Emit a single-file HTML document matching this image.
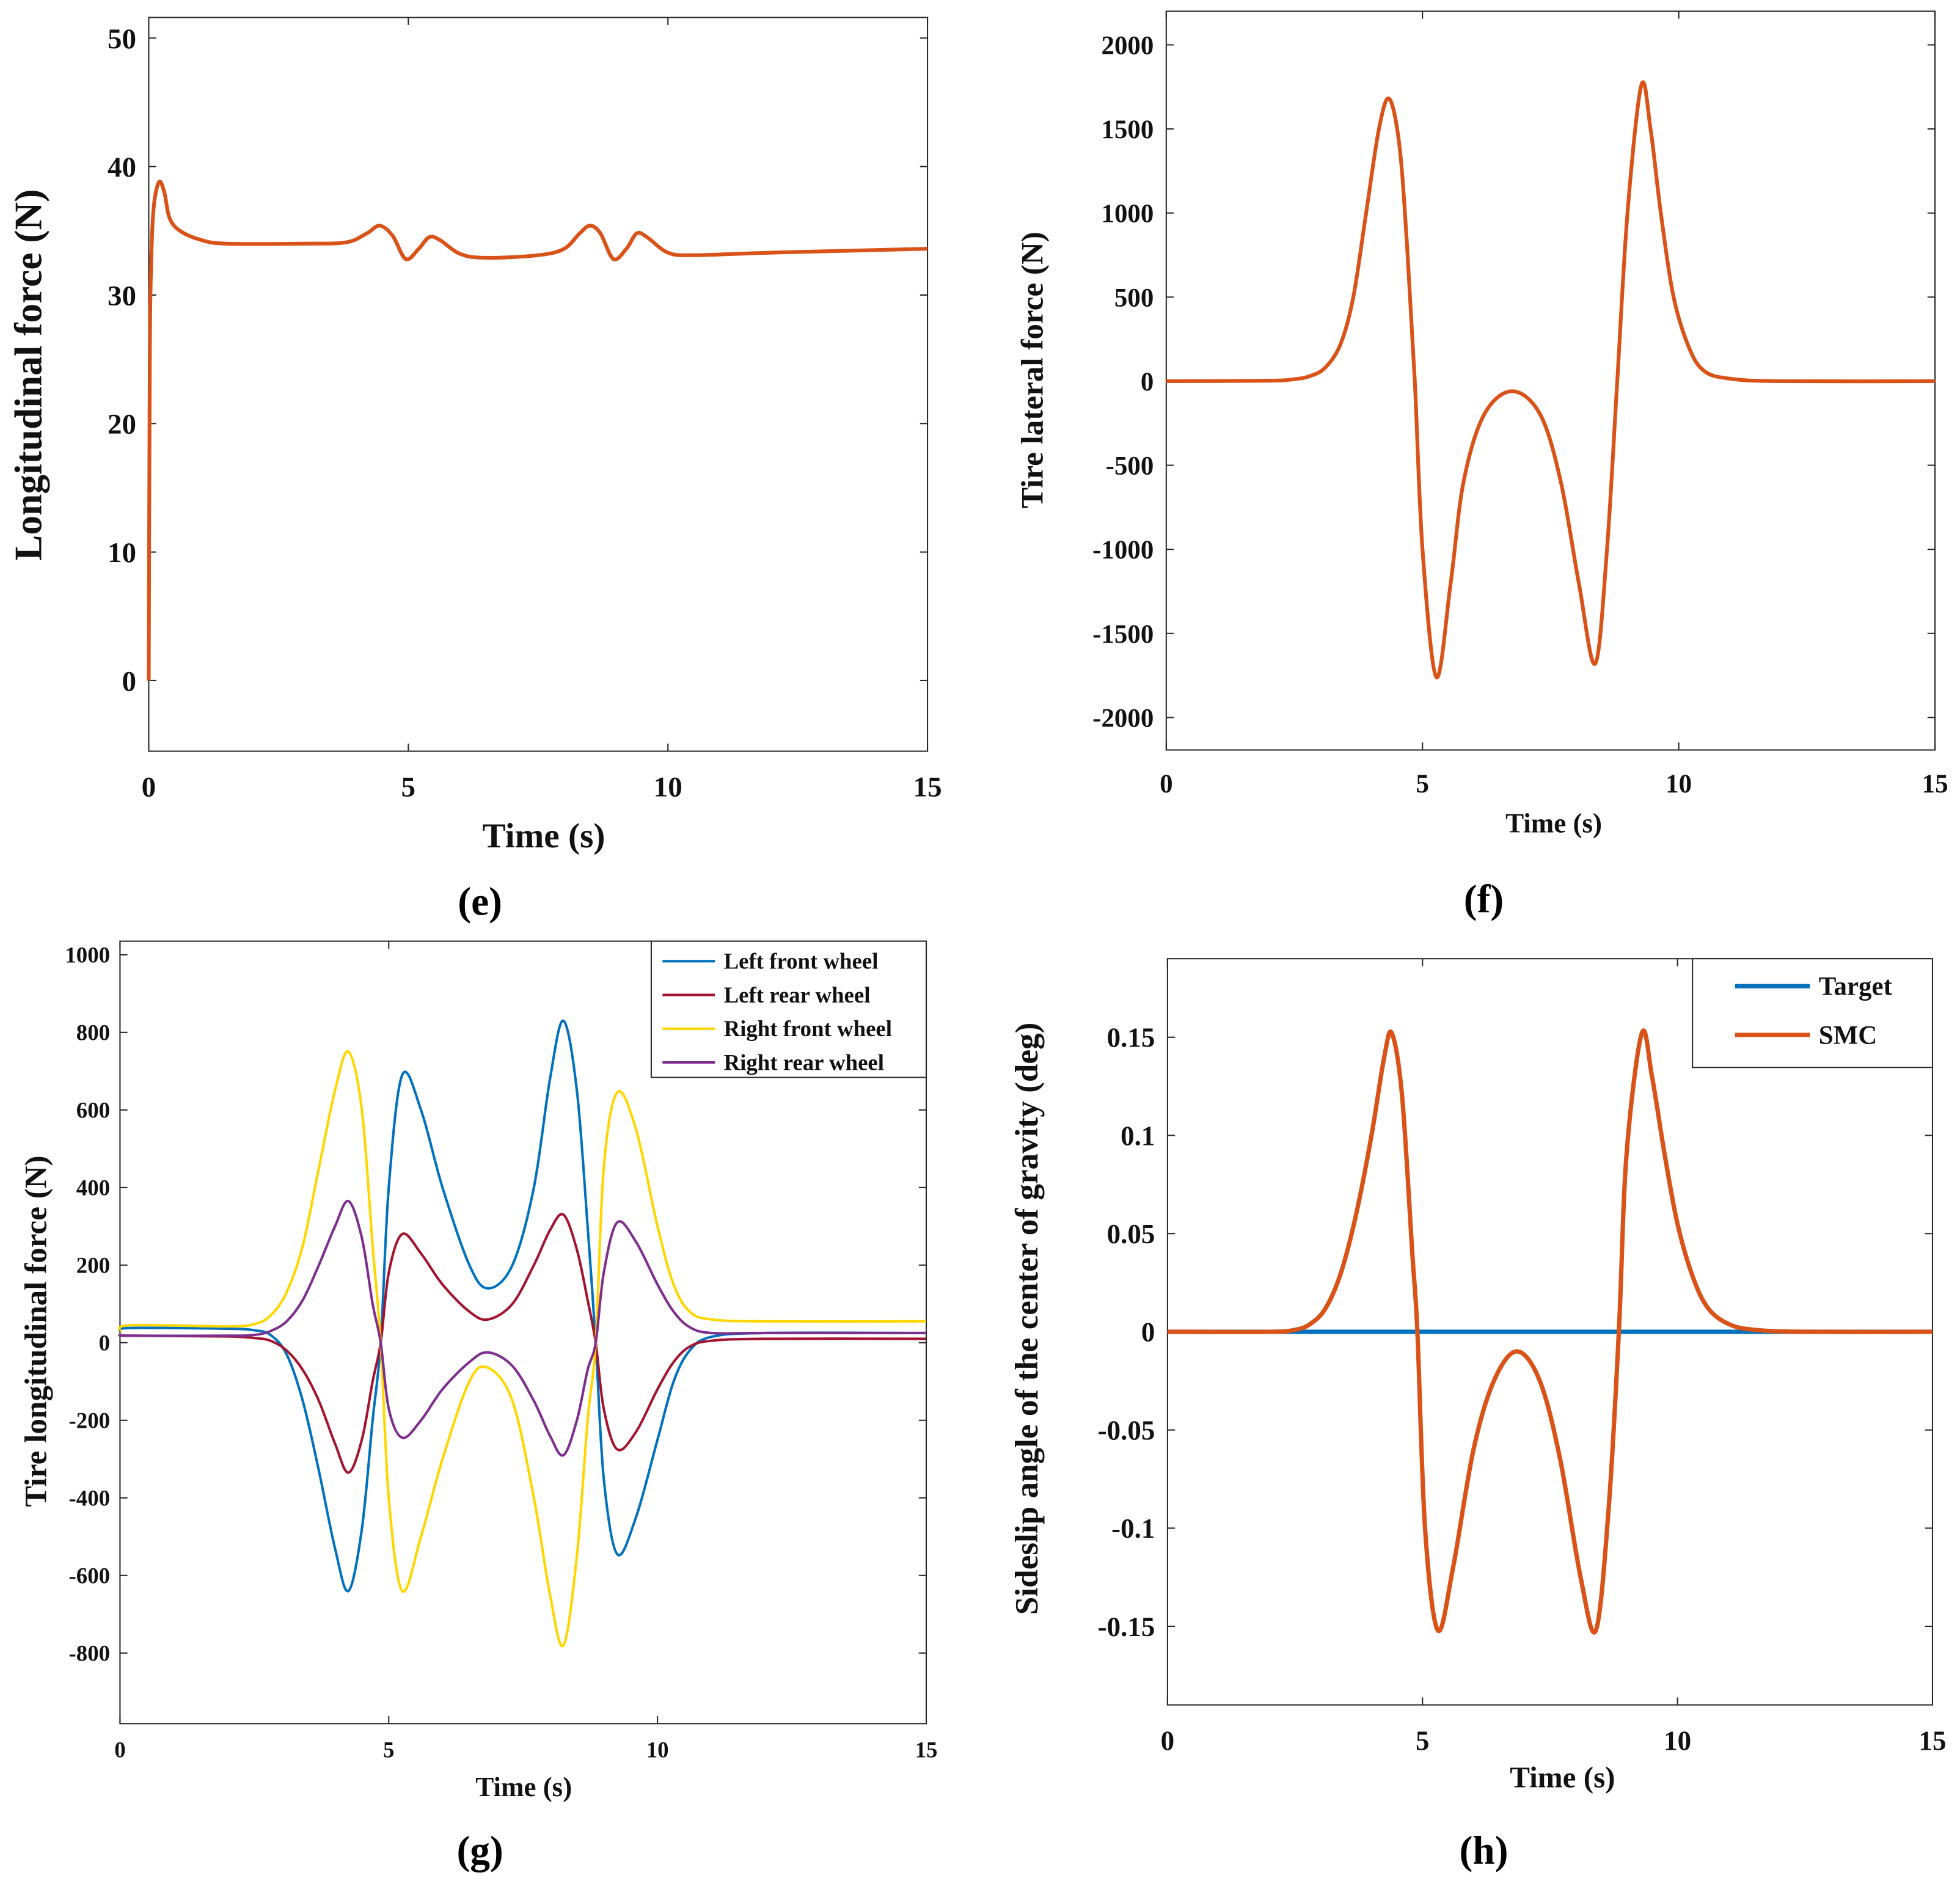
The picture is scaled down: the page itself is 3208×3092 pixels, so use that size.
<!DOCTYPE html>
<html><head><meta charset="utf-8"><style>
html,body{margin:0;padding:0;background:#fff;}
svg{display:block;font-family:"Liberation Serif",serif;font-weight:bold;}
</style></head><body>
<svg id="fig" width="3208" height="3092" viewBox="0 0 1568 1511.3" preserveAspectRatio="none" xmlns="http://www.w3.org/2000/svg"></svg>
<script>
// ---- Panel (e) data ----
const eTime=[0,0.02,0.05,0.1,0.2,0.3,0.4,0.6,1,1.5,3,3.8,4.2,4.45,4.7,4.95,5.2,5.4,5.6,6,6.5,7.5,8,8.3,8.5,8.7,8.95,9.2,9.4,9.6,10,10.5,12,15];
const eForce=[0,25,33,37,38.8,38,36,35,34.3,34,34,34.1,34.8,35.4,34.6,32.8,33.6,34.5,34.3,33.2,32.9,33.1,33.6,34.8,35.4,34.8,32.8,33.6,34.8,34.5,33.3,33.1,33.3,33.6];
const eYTicks=[0,10,20,30,40,50];
const eXTicks=[0,5,10,15];
// ---- Panel (f) data ----
const fTime=[0,2,2.5,2.8,3.1,3.4,3.65,3.9,4.15,4.35,4.55,4.7,4.85,5.0,5.27,5.55,5.8,6.2,6.75,7.3,7.7,8.05,8.37,8.6,8.8,9.0,9.27,9.45,9.65,9.9,10.2,10.5,11,12,15];
const fForce=[0,3,12,30,80,220,500,1000,1500,1680,1400,800,0,-1000,-1760,-1200,-600,-200,-60,-200,-600,-1200,-1680,-1000,0,1000,1760,1500,1000,500,200,60,15,0,0];
const fYTicks=[-2000,-1500,-1000,-500,0,500,1000,1500,2000];
const fXTicks=[0,5,10,15];
// ---- Panel (g) data ----
const gTime=[0,0.2,2,2.5,2.8,3.1,3.4,3.7,4.0,4.25,4.5,4.7,4.85,5.0,5.25,5.6,6.0,6.5,6.85,7.3,7.7,8.0,8.25,8.5,8.7,8.85,9.0,9.25,9.6,10.0,10.3,10.6,11,12,15];
const gLeftFront=[30,38,36,32,20,-30,-150,-330,-530,-640,-480,-200,0,400,690,600,400,200,140,200,400,680,830,650,300,0,-350,-545,-450,-250,-100,-20,15,25,25];
const gLeftRear=[20,18,16,12,5,-20,-70,-150,-260,-335,-250,-100,0,180,280,230,150,80,60,100,200,290,330,240,110,0,-170,-275,-230,-120,-50,-10,5,10,10];
const gRightFront=[30,45,42,48,70,130,250,450,650,750,600,250,0,-400,-640,-500,-300,-100,-65,-150,-400,-650,-780,-550,-200,0,450,645,550,300,150,80,60,55,55];
const gRightRear=[20,18,18,20,30,55,110,200,300,365,270,100,0,-170,-245,-200,-120,-50,-25,-60,-150,-240,-290,-200,-70,0,180,310,260,150,80,40,25,25,25];
const gYTicks=[-800,-600,-400,-200,0,200,400,600,800,1000];
const gXTicks=[0,5,10,15];
const gNames=["Left front wheel","Left rear wheel","Right front wheel","Right rear wheel"];
// ---- Panel (h) data ----
const hTime=[0,2,2.5,2.8,3.1,3.4,3.7,4.0,4.25,4.4,4.6,4.8,4.9,5.05,5.3,5.6,6.0,6.4,6.85,7.3,7.7,8.1,8.4,8.65,8.85,9.0,9.3,9.5,9.75,10.0,10.3,10.6,11,11.5,12.5,15];
const hSMC=[0,0,0.001,0.004,0.012,0.03,0.06,0.1,0.14,0.152,0.12,0.04,0,-0.1,-0.152,-0.12,-0.06,-0.025,-0.01,-0.025,-0.065,-0.125,-0.152,-0.09,0,0.09,0.152,0.13,0.09,0.055,0.028,0.012,0.004,0.001,0,0];
const hTarget=[0,0];
const hTargetTime=[0,15];
const hYTicks=[-0.15,-0.1,-0.05,0,0.05,0.1,0.15];
const hYTickLabels=["-0.15","-0.1","-0.05","0","0.05","0.1","0.15"];
const hXTicks=[0,5,10,15];

const svg=document.getElementById('fig');
const NS="http://www.w3.org/2000/svg";
function mk(tag,attrs,parent){const el=document.createElementNS(NS,tag);for(const k in attrs)el.setAttribute(k,attrs[k]);(parent||svg).appendChild(el);return el;}
function txt(s,x,y,size,anchor,parent,rot){const t=mk('text',{x:x,y:y,'font-size':size,'text-anchor':anchor||'middle',fill:'#111'},parent);if(rot)t.setAttribute('transform','rotate(-90 '+x+' '+y+')');t.textContent=s;return t;}
function smoothPath(pts){let d='M'+pts[0][0]+','+pts[0][1];for(let i=0;i<pts.length-1;i++){const p0=pts[Math.max(0,i-1)],p1=pts[i],p2=pts[i+1],p3=pts[Math.min(pts.length-1,i+2)];const c1x=p1[0]+(p2[0]-p0[0])/6,c1y=p1[1]+(p2[1]-p0[1])/6,c2x=p2[0]-(p3[0]-p1[0])/6,c2y=p2[1]-(p3[1]-p1[1])/6;d+=' C'+c1x+','+c1y+' '+c2x+','+c2y+' '+p2[0]+','+p2[1];}return d;}

function panel(cfg){
  const g=mk('g',{});
  
  
  const X=v=>cfg.x0+(v-cfg.xmin)/(cfg.xmax-cfg.xmin)*(cfg.x1-cfg.x0);
  const Y=v=>cfg.y1-(v-cfg.ymin)/(cfg.ymax-cfg.ymin)*(cfg.y1-cfg.y0);
  const box=mk('rect',{x:cfg.x0,y:cfg.y0,width:cfg.x1-cfg.x0,height:cfg.y1-cfg.y0,fill:'#fff',stroke:'#262626','stroke-width':1},g);
  
  
  const tl=6;
  cfg.xt.forEach(v=>{const x=X(v);
    mk('line',{x1:x,y1:cfg.y1,x2:x,y2:cfg.y1-tl,stroke:'#262626','stroke-width':1},g);
    mk('line',{x1:x,y1:cfg.y0,x2:x,y2:cfg.y0+tl,stroke:'#262626','stroke-width':1},g);
    const t=txt(String(v),x,cfg.y1+cfg.xtOff,cfg.tickSize,'middle',g);
    
    
  });
  cfg.yt.forEach((v,i)=>{const y=Y(v);
    mk('line',{x1:cfg.x0,y1:y,x2:cfg.x0+tl,y2:y,stroke:'#262626','stroke-width':1},g);
    mk('line',{x1:cfg.x1,y1:y,x2:cfg.x1-tl,y2:y,stroke:'#262626','stroke-width':1},g);
    const t=txt(cfg.ytl?cfg.ytl[i]:String(v),cfg.x0-cfg.ytOff,y+cfg.tickSize*0.35,cfg.tickSize,'end',g);
    
    
  });
  cfg.series.forEach(s=>{
    const pts=s.t.map((tv,i)=>[X(tv),Y(s.v[i])]);
    const p=mk('path',{d:smoothPath(pts),fill:'none',stroke:s.color,'stroke-width':s.w,'stroke-linejoin':'round'},g);
    
    
  });
  const xt=txt('Time (s)',cfg.xlab[0],cfg.xlab[1],cfg.labSize,'middle',g);
  
  
  const yt=txt(cfg.ylabel,cfg.ylab[0],cfg.ylab[1],cfg.ylabSize||cfg.labSize,'middle',g,true);
  
  
  const cap=mk('text',{x:cfg.cap[0],y:cfg.cap[1],'font-size':32,'text-anchor':'middle',fill:'#000'},g);
  cap.textContent=cfg.capText;
  
  
  return {g,X,Y};
}

panel({name:'panel-e',x0:119,x1:742,y0:14,y1:601,xmin:0,xmax:15,ymin:-5.5,ymax:51.6,xt:eXTicks,yt:eYTicks,tickSize:23,xtOff:36,ytOff:10,
  series:[{t:eTime,v:eForce,color:'#D95319',w:3,name:'longitudinal-force-line'}],
  xlab:[435,678],ylab:[33,300],labSize:28,ylabSize:31,ylabel:'Longitudinal force (N)',cap:[384,732],capText:'(e)'});

panel({name:'panel-f',x0:933,x1:1548,y0:9,y1:600,xmin:0,xmax:15,ymin:-2193,ymax:2200,xt:fXTicks,yt:fYTicks,tickSize:21,xtOff:34,ytOff:10,
  series:[{t:fTime,v:fForce,color:'#D95319',w:3,name:'tire-lateral-force-line'}],
  xlab:[1243,666],ylab:[834,296],labSize:22,ylabSize:25,ylabel:'Tire lateral force (N)',cap:[1187,730],capText:'(f)'});

const pg=panel({name:'panel-g',x0:96,x1:741,y0:753,y1:1379,xmin:0,xmax:15,ymin:-982,ymax:1035,xt:gXTicks,yt:gYTicks,tickSize:18,xtOff:27,ytOff:8,
  series:[{t:gTime,v:gLeftFront,color:'#0072BD',w:2,name:'left-front-wheel-line'},
          {t:gTime,v:gLeftRear,color:'#A2142F',w:2,name:'left-rear-wheel-line'},
          {t:gTime,v:gRightFront,color:'#FFD700',w:2,name:'right-front-wheel-line'},
          {t:gTime,v:gRightRear,color:'#7E2F8E',w:2,name:'right-rear-wheel-line'}],
  xlab:[419,1437],ylab:[37,1065],labSize:22,ylabSize:25,ylabel:'Tire longitudinal force (N)',cap:[384,1491],capText:'(g)'});
(function(){const lg=mk('g',{});
  
  
  mk('rect',{x:521,y:753,width:220,height:109,fill:'#fff',stroke:'#262626','stroke-width':1},lg);
  const cols=['#0072BD','#A2142F','#FFD700','#7E2F8E'];
  gNames.forEach((n,i)=>{const y=769+i*27;
    const e=mk('g',{},lg);
    
    
    mk('line',{x1:530,y1:y,x2:572,y2:y,stroke:cols[i],'stroke-width':2},e);
    txt(n,579,y+6,18,'start',e);});
})();

panel({name:'panel-h',x0:934,x1:1546,y0:767,y1:1364,xmin:0,xmax:15,ymin:-0.19,ymax:0.19,xt:hXTicks,yt:hYTicks,ytl:hYTickLabels,tickSize:22,xtOff:36,ytOff:10,
  series:[{t:hTargetTime,v:hTarget,color:'#0072BD',w:3.5,name:'target-line'},
          {t:hTime,v:hSMC,color:'#D95319',w:3.5,name:'smc-line'}],
  xlab:[1250,1430],ylab:[830,1055],labSize:24,ylabSize:26,ylabel:'Sideslip angle of the center of gravity (deg)',cap:[1187,1491],capText:'(h)'});
(function(){const lg=mk('g',{});
  
  
  mk('rect',{x:1354,y:767,width:192,height:87,fill:'#fff',stroke:'#262626','stroke-width':1},lg);
  [['Target','#0072BD',789],['SMC','#D95319',828]].forEach(a=>{
    const e=mk('g',{},lg);
    
    
    mk('line',{x1:1388,y1:a[2],x2:1448,y2:a[2],stroke:a[1],'stroke-width':3.5},e);
    txt(a[0],1455,a[2]+7,21,'start',e);});
})();
</script>
</body></html>
